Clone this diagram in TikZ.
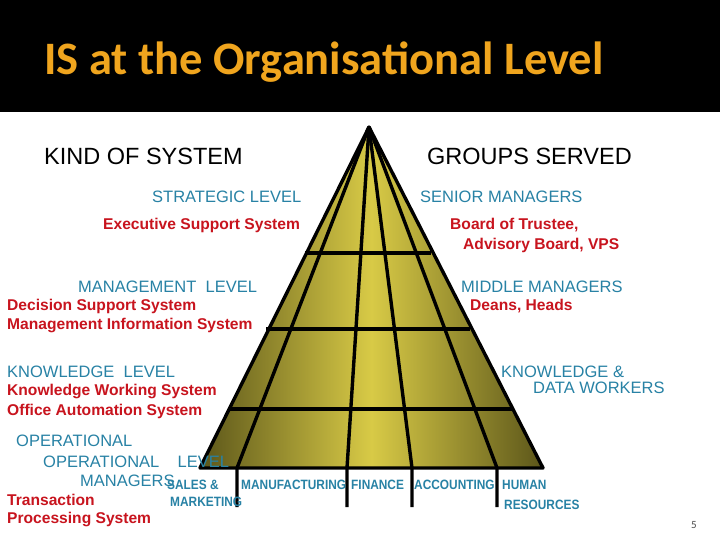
\documentclass[tikz,border=0pt]{standalone}
\usepackage{fontspec}
\setmainfont{Liberation Sans}
\newfontfamily\titlefont{Carlito}
\newfontfamily\narrowf[FakeStretch=0.88]{Liberation Sans Bold}
\begin{document}
\begin{tikzpicture}[x=1pt,y=-1pt,
  teal/.style={text=tealc,font=\fontsize{16.5}{18}\selectfont,inner sep=0pt,anchor=west},
  redt/.style={text=redc,font=\bfseries\fontsize{15.6}{17}\selectfont,inner sep=0pt,anchor=west},
  head/.style={text=black,font=\fontsize{23.5}{25}\selectfont,inner sep=0pt,anchor=west},
  small/.style={text=tealc,font=\narrowf\fontsize{13.5}{14}\selectfont,inner sep=0pt,anchor=west},
  edge/.style={line width=3.4pt,black}]
\definecolor{tealc}{RGB}{40,130,165}
\definecolor{redc}{RGB}{200,20,30}
\definecolor{oliv}{RGB}{92,86,26}
\definecolor{yel}{RGB}{216,202,70}
\definecolor{orng}{RGB}{240,165,30}
\useasboundingbox (0,0) rectangle (720,540);
\fill[white] (0,0) rectangle (720,540);
\fill[black] (0,0) rectangle (720,112);
\node[anchor=west,inner sep=0pt,text=orng,font=\titlefont\bfseries\fontsize{46.5}{48}\selectfont] (title) at (44,62) {IS at the Organisational Level};
% pyramid
\coordinate (apex) at (369,127);
\coordinate (bl) at (200,468);
\coordinate (br) at (543,468);
\shade[left color=oliv,right color=oliv,middle color=yel] (apex) -- (br) -- (bl) -- cycle;
\foreach \b/\n in {237/a,347/b,412/c,497/d}{
  \coordinate (b\n) at (\b,468);
  \coordinate (e\n) at (\b,507);
  \draw[edge] (apex) -- (b\n) -- (e\n);
}
\draw[edge] (305,253) -- (431,253);
\draw[edge] (266,329) -- (470,329);
\draw[edge] (228,409) -- (512,409);
\draw[edge,line join=round] (apex) -- (br) -- (bl) -- cycle;
% texts
\node[head] (k) at (44,156) {KIND OF SYSTEM};
\node[head] (g) at (427,156) {GROUPS SERVED};
\node[teal] (t1) at (152,197) {STRATEGIC LEVEL};
\node[redt] (t2) at (103,225) {Executive Support System};
\node[teal] (t3) at (420,197) {SENIOR MANAGERS};
\node[redt] (t4) at (450,225) {Board of Trustee,};
\node[redt] (t5) at (463,245) {Advisory Board, VPS};
\node[teal] (t6) at (78,287) {MANAGEMENT\ \ LEVEL};
\node[redt] (t7) at (7,306) {Decision Support System};
\node[redt] (t8) at (7,325) {Management Information System};
\node[teal] (t9) at (461,287) {MIDDLE MANAGERS};
\node[redt] (t10) at (470,306) {Deans, Heads};
\node[teal] (t11) at (7,372) {KNOWLEDGE\ \ LEVEL};
\node[redt] (t12) at (7,391) {Knowledge Working System};
\node[redt] (t13) at (7,411) {Office Automation System};
\node[teal] (t14) at (501,372) {KNOWLEDGE \&};
\node[teal] (t15) at (533,388) {DATA WORKERS};
\node[teal] (t16) at (16,441) {OPERATIONAL};
\node[teal] (t17) at (43,462) {OPERATIONAL\ \ \ \ LEVEL};
\node[teal] (t18) at (80,481) {MANAGERS};
\node[redt] (t19) at (7,500) {Transaction};
\node[redt] (t20) at (7,519) {Processing System};
\node[small] (s1) at (167,485) {SALES \&};
\node[small] (s2) at (170,502) {MARKETING};
\node[small] (s3) at (241,485) {MANUFACTURING};
\node[small] (s4) at (351,485) {FINANCE};
\node[small] (s5) at (414,485) {ACCOUNTING};
\node[small] (s6) at (502,485) {HUMAN};
\node[small] (s7) at (504,505) {RESOURCES};
\node[anchor=west,inner sep=0pt,text=black!70,font=\titlefont\fontsize{11}{12}\selectfont] (pg) at (691,525) {5};
\end{tikzpicture}
\end{document}
